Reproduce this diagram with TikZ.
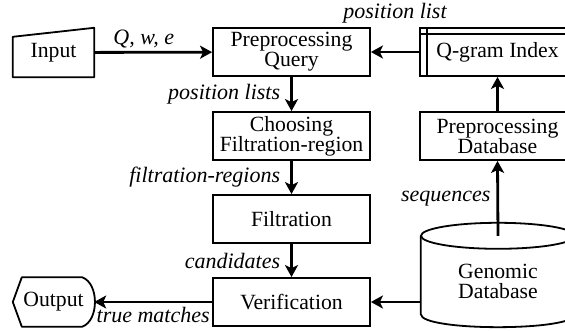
\documentclass[tikz,border=0pt]{standalone}
\usepackage{fontspec}
\setmainfont{Liberation Serif}
\usetikzlibrary{arrows.meta}
\usetikzlibrary{calc}
\tikzstyle{stage}=[rectangle,draw,line width=1.8pt,minimum width=157pt,minimum height=48pt,inner sep=0pt,align=center]
\tikzstyle{bare}=[rectangle,minimum width=81pt,minimum height=49pt,inner sep=0pt,align=center]
\tikzstyle{outline} = [draw,line width=1.8pt,line join=round]
\tikzstyle{flow} = [draw,line width=2.8pt,-{Stealth[length=12pt,width=13pt,inset=3pt]}]
\tikzstyle{lbl} = [font=\fontsize{22}{20}\selectfont\rmfamily\itshape,inner sep=1pt]

\begin{document}
\begin{tikzpicture}[x=1pt,y=-1pt,font=\fontsize{21.7}{20}\selectfont\rmfamily]
\useasboundingbox (0,0) rectangle (565,331);

    % First we draw the stages
    \foreach \pos/\name/\label in {{(291.5,52)/pq/{Preprocessing\\Query}}, {(291.5,136)/cf/{Choosing\\Filtration-region}}, {(291.5,219)/filt/{Filtration}}, {(291.5,302)/ver/{Verification}}}
        \node[stage] (\name) at \pos {\label};
    \foreach \pos/\name/\label in {{(497.5,52)/qg/{Q-gram Index}}, {(497.5,136)/pdb/{Preprocessing\\Database}}}
        \node[stage,minimum width=155pt] (\name) at \pos {\label};

    % input, output and the database
    \node[bare] (in) at (53.5,52.5) {Input};
    \node[bare] (out) at (53.5,302) {Output};
    \node[bare,minimum width=154pt,minimum height=91pt] (gdb) at (498,281.5) {Genomic\\Database};

    \path[outline] (in.south west) -- (in.south east) -- (in.north east) -- ($(in.north west)+(0,9)$) -- cycle;
    \path[outline] (out.west) -- ($(out.north west)+(9,0)$) -- ($(out.north east)+(-12,0)$)
        .. controls ($(out.north east)+(5,6)$) and ($(out.south east)+(5,-6)$) .. ($(out.south east)+(-12,0)$)
        -- ($(out.south west)+(9,0)$) -- cycle;
    \path[outline] (gdb.north west) -- ($(gdb.south west)+(0,-13)$)
        .. controls ($(gdb.south west)+(0,4.3)$) and ($(gdb.south east)+(0,4.3)$) .. ($(gdb.south east)+(0,-13)$)
        -- (gdb.north east);
    \draw[line width=1.8pt] (gdb.north) ellipse [x radius=77pt, y radius=13pt];
    \draw[line width=1.8pt] ($(qg.north west)+(8,0)$) -- ($(qg.south west)+(8,0)$);
    \draw[line width=1.8pt] ($(qg.north west)+(0,7)$) -- ($(qg.north east)+(0,7)$);

    % Connect stages with arrows and draw labels
    \path[flow] (in) -- node[lbl,above=2pt,pos=0.42] {Q, w, e} (pq);
    \path[flow] (qg) -- node[lbl,above=26pt] {position list} (pq);
    \foreach \source/\dest/\weight in {pq/cf/{position lists}, cf/filt/{filtration-regions}, filt/ver/{candidates}}
          \path[flow] (\source) -- node[lbl,left=9pt] {\weight} (\dest);
    \path[flow] (ver) -- node[lbl,below=3pt] {true matches} (out);
    \path[flow] (ver.east -| gdb.west) -- (ver.east);
    \path[flow] (gdb.north) -- node[lbl,left=5pt] {sequences} (pdb.south);
    \path[flow] (pdb) -- (qg);

\end{tikzpicture}
\end{document}
